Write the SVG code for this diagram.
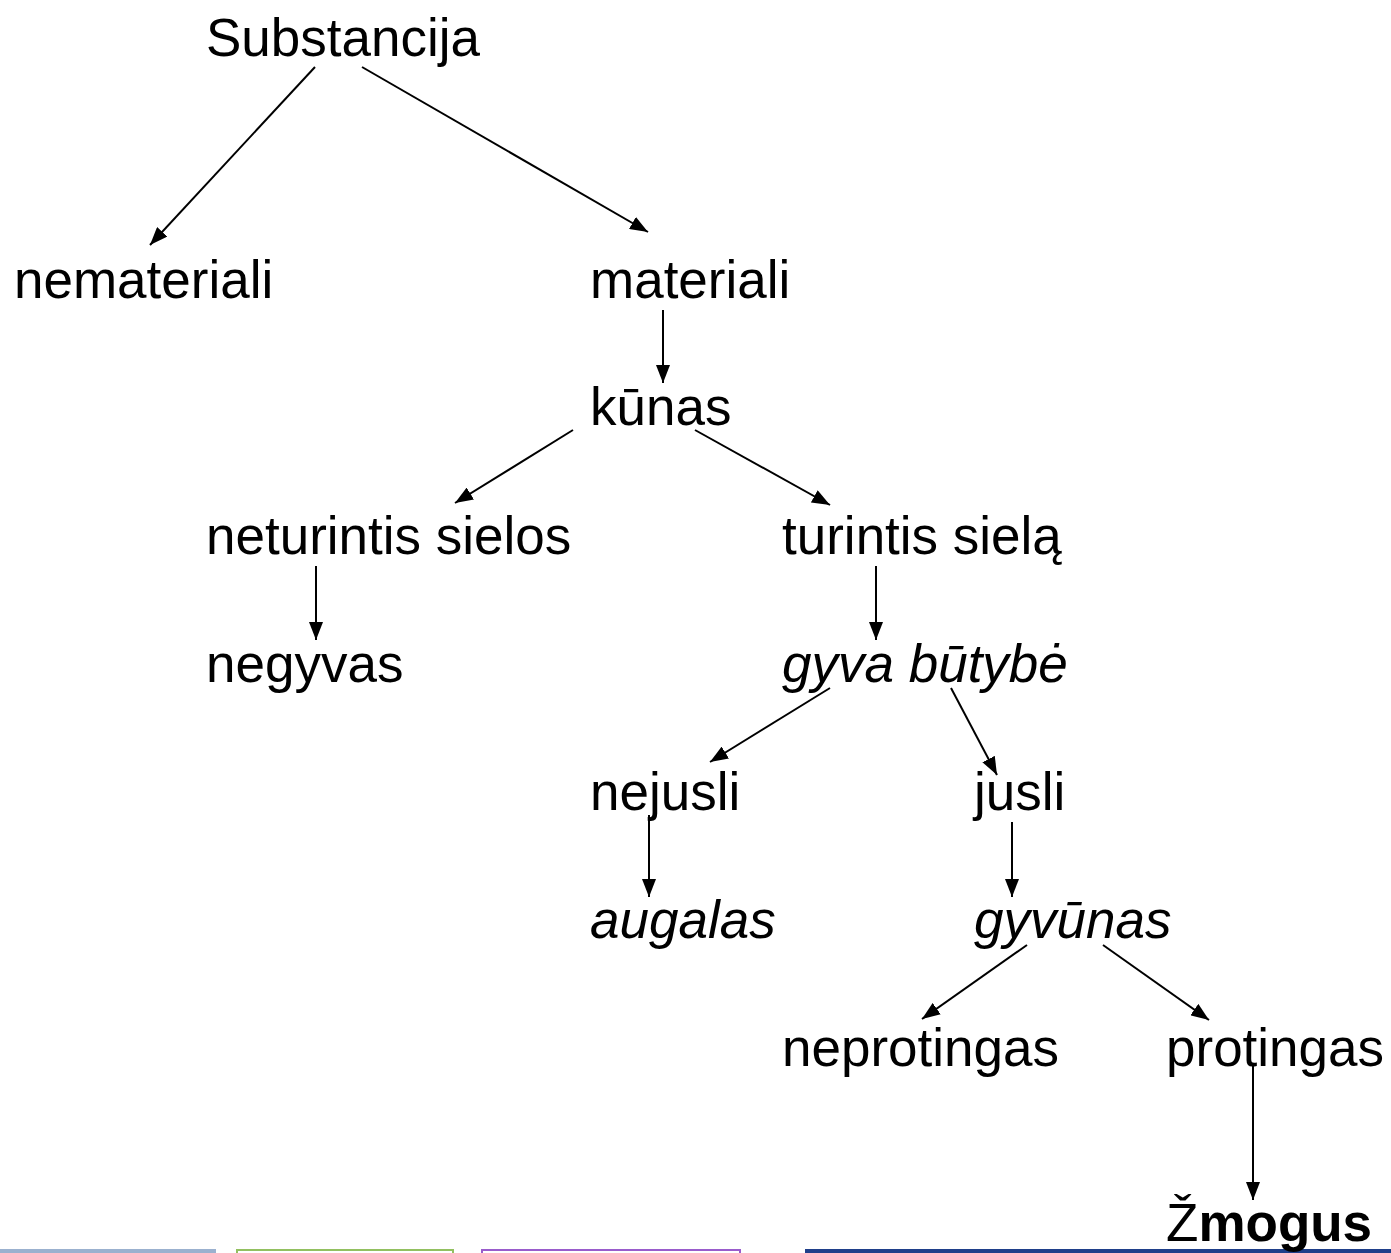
<svg xmlns="http://www.w3.org/2000/svg" width="1391" height="1253" viewBox="0 0 1391 1253">
<defs>
<marker id="ah" markerUnits="userSpaceOnUse" markerWidth="20" markerHeight="14" refX="18" refY="7" orient="auto">
<path d="M0,0 L18,7 L0,14 Z" fill="#000"/>
</marker>
<style>
text{font-family:"Liberation Sans",Arial,sans-serif;font-size:53px;fill:#000}
.i{font-style:italic}
.b{font-weight:bold}
.c line{stroke:#000;stroke-width:2;marker-end:url(#ah)}
</style>
</defs>
<rect width="1391" height="1253" fill="#fff"/>
<g id="bars">
<rect x="0" y="1249" width="216" height="4" fill="#9bb1cf"/>
<rect x="237" y="1250" width="216" height="6" fill="none" stroke="#92c060" stroke-width="2"/>
<rect x="482" y="1250" width="258" height="6" fill="none" stroke="#9a5ccc" stroke-width="2"/>
<rect x="805" y="1249" width="586" height="4" fill="#1f3f8a"/>
</g>
<g class="c" id="connectors">
<line x1="315" y1="67" x2="150" y2="245"/>
<line x1="362" y1="67" x2="648" y2="232"/>
<line x1="663" y1="310" x2="663" y2="383"/>
<line x1="573" y1="430" x2="455" y2="503"/>
<line x1="695" y1="430" x2="830" y2="505"/>
<line x1="316" y1="566" x2="316" y2="640"/>
<line x1="876" y1="566" x2="876" y2="640"/>
<line x1="830" y1="688" x2="710" y2="762"/>
<line x1="951" y1="688" x2="997" y2="775"/>
<line x1="649" y1="815" x2="649" y2="897"/>
<line x1="1012" y1="822" x2="1012" y2="897"/>
<line x1="1027" y1="945" x2="922" y2="1019"/>
<line x1="1103" y1="945" x2="1209" y2="1020"/>
<line x1="1253" y1="1065" x2="1253" y2="1200"/>
</g>
<g id="n_substancija"><text x="206" y="56">Substancija</text></g>
<g id="n_nemateriali"><text x="14" y="298">nemateriali</text></g>
<g id="n_materiali"><text x="590" y="298">materiali</text></g>
<g id="n_kunas"><text x="590" y="425">kūnas</text></g>
<g id="n_neturintis"><text x="206" y="554">neturintis sielos</text></g>
<g id="n_turintis"><text x="782" y="554">turintis sielą</text></g>
<g id="n_negyvas"><text x="206" y="682">negyvas</text></g>
<g id="n_gyva"><text class="i" x="782" y="682">gyva būtybė</text></g>
<g id="n_nejusli"><text x="590" y="810">nejusli</text></g>
<g id="n_jusli"><text x="974" y="810">jusli</text></g>
<g id="n_augalas"><text class="i" x="590" y="938">augalas</text></g>
<g id="n_gyvunas"><text class="i" x="974" y="938">gyvūnas</text></g>
<g id="n_neprotingas"><text x="782" y="1066">neprotingas</text></g>
<g id="n_protingas"><text x="1166" y="1066">protingas</text></g>
<g id="n_zmogus"><text x="1166" y="1241">Ž<tspan class="b">mogus</tspan></text></g>
</svg>
